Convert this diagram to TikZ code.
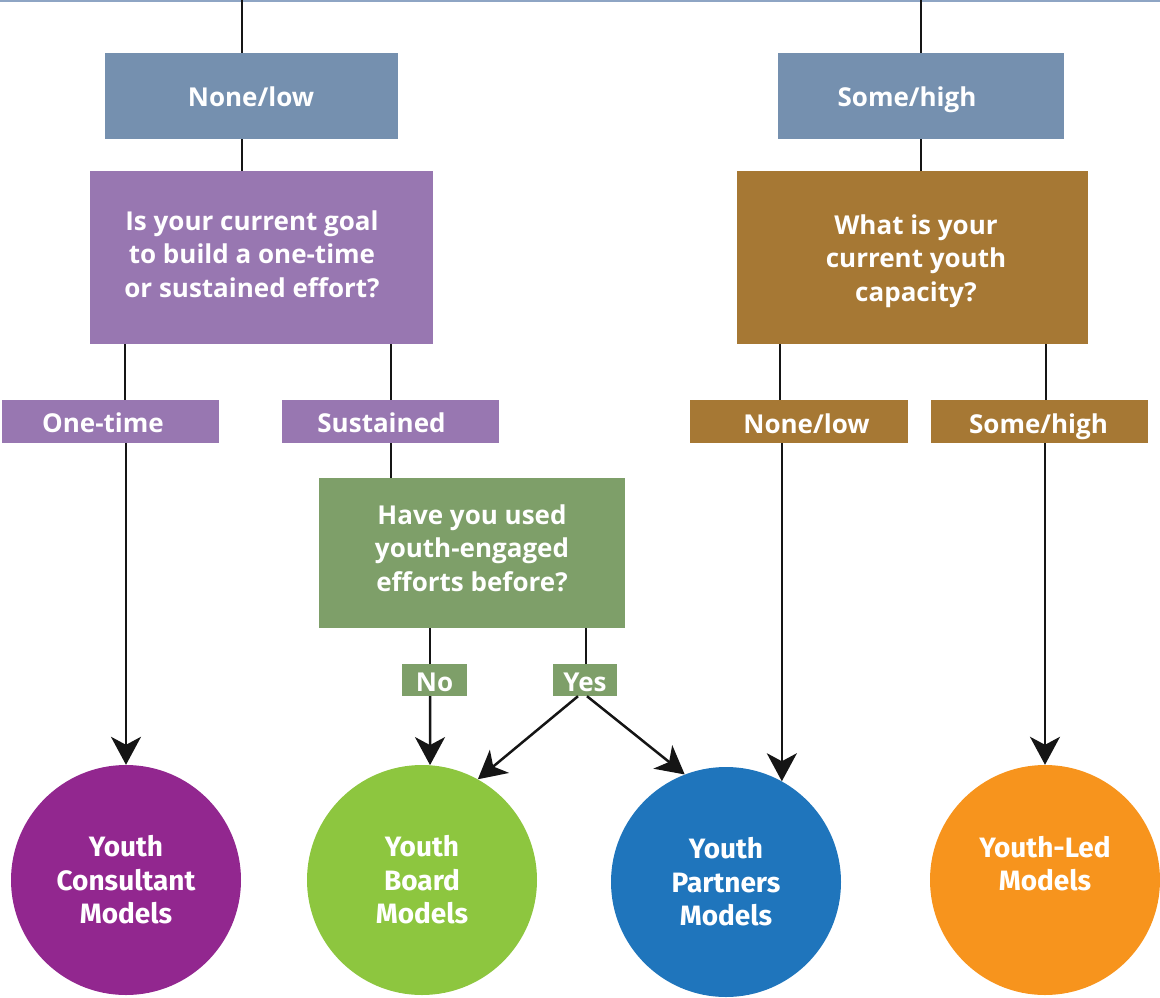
\documentclass[tikz,border=0pt]{standalone}
\usepackage{fontspec}
\setmainfont{Open Sans}
\newfontfamily\circfont{Fira Sans}
\usetikzlibrary{arrows.meta}
\definecolor{slate}{HTML}{7590AF}
\definecolor{topline}{HTML}{8EA5C4}
\definecolor{qpurple}{HTML}{9877B1}
\definecolor{qbrown}{HTML}{A67834}
\definecolor{qgreen}{HTML}{7E9F69}
\definecolor{cpurple}{HTML}{92278F}
\definecolor{cgreen}{HTML}{8DC63F}
\definecolor{cblue}{HTML}{1F75BC}
\definecolor{corange}{HTML}{F7941D}
\definecolor{linec}{HTML}{151515}
\tikzset{
  boxnode/.style={rectangle, inner sep=0pt, draw=none},
  txt/.style={text=white, font=\bfseries\fontsize{26}{33.5}\selectfont, align=center, inner sep=0pt},
  onel/.style={txt, text height=19pt, text depth=7pt},
  circnode/.style={circle, minimum size=230pt, inner sep=0pt, text=white, align=center,
    font=\circfont\bfseries\fontsize{28}{33.5}\selectfont},
  conn/.style={draw=linec, line width=2.5pt},
  arr/.style={conn, -{Stealth[length=28pt,width=30pt,inset=8pt]}},
}
\begin{document}
\begin{tikzpicture}[x=1pt,y=-1pt]
\useasboundingbox (0,0) rectangle (1160,997);
% top rule
\coordinate (tl) at (0,1);
\coordinate (tr) at (1160,1);
\draw[topline, line width=2pt] (tl) -- (tr);
\coordinate (topA) at (242,0);
\coordinate (topB) at (921,0);
% level 1 boxes
\node[boxnode, fill=slate, minimum width=293pt, minimum height=86pt] (lowA) at (251.5,96) {};
\node[onel] at (251,100.5) {None/low};
\node[boxnode, fill=slate, minimum width=286pt, minimum height=86pt] (highA) at (921,96) {};
\node[onel] at (907,100.5) {Some/high};
% question boxes
\node[boxnode, fill=qpurple, minimum width=343pt, minimum height=173pt] (qgoal) at (261.5,257.5) {};
\node[txt] at (252,254) {Is your current goal\\to build a one-time\\or sustained effort?};
\node[boxnode, fill=qbrown, minimum width=351pt, minimum height=173pt] (qcap) at (912.5,257.5) {};
\node[txt] at (916,261) {What is your\\current youth\\capacity?};
% answer labels
\node[boxnode, fill=qpurple, minimum width=217pt, minimum height=43pt] (onetime) at (110.5,421.5) {};
\node[onel] at (103,426.5) {One-time};
\node[boxnode, fill=qpurple, minimum width=217pt, minimum height=43pt] (sustained) at (390.5,421.5) {};
\node[onel] at (381.5,426.5) {Sustained};
\node[boxnode, fill=qbrown, minimum width=218pt, minimum height=43pt] (nlow) at (799,421.5) {};
\node[onel] at (806.5,427) {None/low};
\node[boxnode, fill=qbrown, minimum width=217pt, minimum height=43pt] (shigh) at (1039.5,421.5) {};
\node[onel] at (1038.5,427) {Some/high};
% green question
\node[boxnode, fill=qgreen, minimum width=306pt, minimum height=150pt] (qused) at (472,553) {};
\node[txt] at (472,548) {Have you used\\youth-engaged\\efforts before?};
\node[boxnode, fill=qgreen, minimum width=65pt, minimum height=32pt] (no) at (434.5,680) {};
\node[onel] at (434.5,685) {No};
\node[boxnode, fill=qgreen, minimum width=64pt, minimum height=32pt] (yes) at (585,680) {};
\node[onel] at (585,685) {Yes};
% outcome circles
\node[circnode, fill=cpurple] (c1) at (126,880) {Youth\\Consultant\\Models};
\node[circnode, fill=cgreen] (c2) at (422,880) {Youth\\Board\\Models};
\node[circnode, fill=cblue] (c3) at (726,882) {Youth\\Partners\\Models};
\node[circnode, fill=corange] (c4) at (1045,880) {Youth-Led\\Models\\\phantom{M}};
% connectors
\draw[conn] (topA) -- (topA |- lowA.north);
\draw[conn] (topB) -- (topB |- highA.north);
\draw[conn] (lowA.south -| topA) -- (qgoal.north -| topA);
\draw[conn] (highA.south -| topB) -- (qcap.north -| topB);
\coordinate (xa) at (125,0);
\coordinate (xb) at (391,0);
\coordinate (xc) at (780,0);
\coordinate (xd) at (1046,0);
\draw[conn] (qgoal.south -| xa) -- (onetime.north -| xa);
\draw[conn] (qgoal.south -| xb) -- (sustained.north -| xb);
\draw[conn] (qcap.south -| xc) -- (nlow.north -| xc);
\draw[conn] (qcap.south -| xd) -- (shigh.north -| xd);
\draw[conn] (sustained.south -| xb) -- (qused.north -| xb);
\coordinate (xn) at (430,0);
\coordinate (xy) at (586,0);
\draw[conn] (qused.south -| xn) -- (no.north -| xn);
\draw[conn] (qused.south -| xy) -- (yes.north -| xy);
% arrows
\draw[arr] (onetime.south -| c1.north) -- (c1.north);
\draw[arr] (no.south -| xn) -- (c2.86);
\draw[arr] ([xshift=-7pt]yes.south) -- (c2.61);
\draw[arr] ([xshift=2pt]yes.south) -- (c3.111);
\draw[arr] (nlow.south -| c3.61) -- (c3.61);
\draw[arr] (shigh.south -| c4.north) -- (c4.north);
\end{tikzpicture}
\end{document}
